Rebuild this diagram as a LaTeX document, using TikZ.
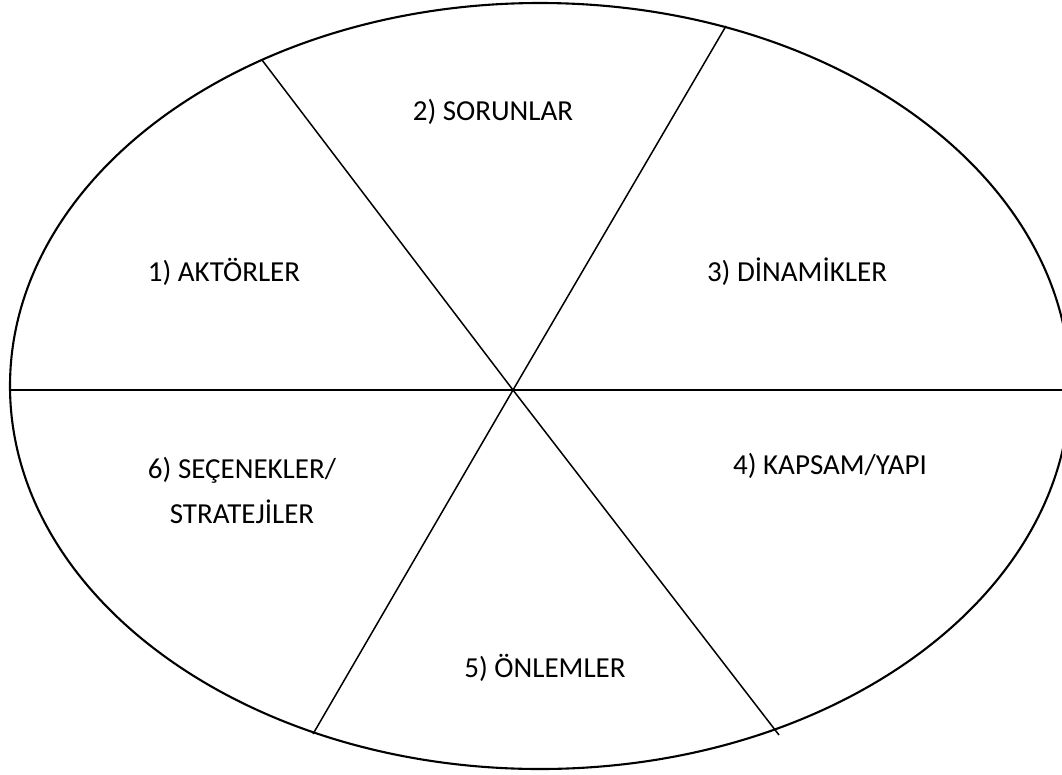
\documentclass[tikz,border=0pt]{standalone}
\usepackage{fontspec}
\setmainfont{Carlito}
\usetikzlibrary{positioning}
\tikzset{
  rim/.style={draw=black, line width=2.1pt},
  spoke/.style={draw=black, line width=1.5pt},
  axis/.style={draw=black, line width=2pt},
  lbl/.style={font=\fontsize{29}{45}\selectfont, align=center, inner sep=0pt},
}
\begin{document}
\begin{tikzpicture}[x=1pt,y=-1pt]
\useasboundingbox (0,0) rectangle (1062,774);

\draw[rim] (540,386) ellipse[x radius=530, y radius=383];

% end points of the three cuts
\coordinate (mid) at (513,390);
\coordinate (aw) at (10,390);   \coordinate (ae) at (1062,390);
\coordinate (bn) at (262,60);   \coordinate (bs) at (779,735);
\coordinate (cn) at (726,26);   \coordinate (cs) at (313,734);

\draw[axis]  (aw) -- (mid) -- (ae);
\draw[spoke] (bn) -- (mid) -- (bs);
\draw[spoke] (cn) -- (mid) -- (cs);

\node[lbl] (soru) at (493,112) {2) SORUNLAR};
\node[lbl] (akt)  at (224,272) {1) AKTÖRLER};
\node[lbl] (din)  at (797,272) {3) DİNAMİKLER};
\node[lbl] (kap)  at (830,466) {4) KAPSAM/YAPI};
\node[lbl] (sec)  at (242,490) {6) SEÇENEKLER/\\STRATEJİLER};
\node[lbl] (onl)  at (545,668) {5) ÖNLEMLER};
\end{tikzpicture}
\end{document}
